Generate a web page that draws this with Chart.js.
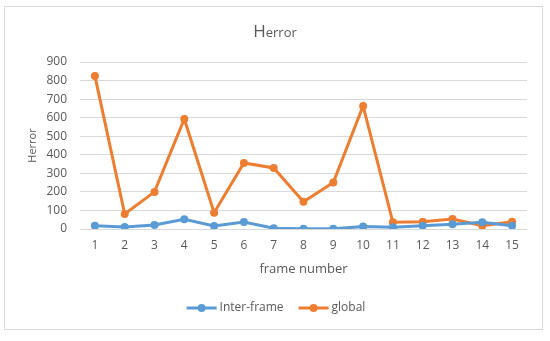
<!DOCTYPE html>
<html lang="en">
<head>
  <meta charset="UTF-8">
  <title>Herror</title>
  <script src="https://cdn.jsdelivr.net/npm/chart.js"></script>
  <style>
    body {
      margin: 0;
      background-color: white;
      font-family: 'Open Sans', sans-serif;
    }

    #chartBox {
      position: absolute;
      left: 4px;
      top: 6px;
      width: 537px;
      height: 322px;
      border: 1px solid #d9d9d9;
    }

    #hChart {
      position: absolute;
      left: 0;
      top: 0;
    }
  </style>
</head>
<body>

<div id="chartBox"></div>
<canvas id="hChart" width="550" height="341"></canvas>

<script>
  var frameLabels = ['1', '2', '3', '4', '5', '6', '7', '8', '9', '10', '11', '12', '13', '14', '15'];
  var interFrame = [18, 11, 22, 52, 16, 38, 4, 2, 1, 13, 9, 18, 25, 36, 18];
  var globalErr = [825, 81, 200, 593, 88, 356, 329, 147, 250, 663, 36, 39, 54, 18, 39];
  var yTicks = [0, 100, 200, 300, 400, 500, 600, 700, 800, 900];

  var textColor = '#595959';

  // title drawn with a big "H" and smaller "error"
  var titlePlugin = {
    id: 'splitTitle',
    afterDraw: function (chart) {
      var ctx = chart.ctx;
      ctx.save();
      ctx.fillStyle = textColor;
      ctx.textBaseline = 'alphabetic';
      ctx.font = '17px "Open Sans"';
      var wH = ctx.measureText('H').width;
      ctx.font = '13px "Open Sans"';
      var wE = ctx.measureText('error').width;
      var x = 275 - (wH + wE) / 2;
      ctx.font = '17px "Open Sans"';
      ctx.fillText('H', x, 37);
      ctx.font = '13px "Open Sans"';
      ctx.fillText('error', x + wH, 37);
      ctx.restore();
    }
  };

  // excel-like legend: line with a marker, then the label
  var legendPlugin = {
    id: 'lineLegend',
    afterDraw: function (chart) {
      var ctx = chart.ctx;
      var sets = chart.data.datasets;
      ctx.save();
      ctx.font = '12px "Open Sans"';
      var lineLen = 30, gap = 3, itemGap = 15;
      var total = 0;
      sets.forEach(function (ds, i) {
        total += lineLen + gap + ctx.measureText(ds.label).width;
        if (i < sets.length - 1) total += itemGap;
      });
      var x = 276 - total / 2;
      var y = 308;
      sets.forEach(function (ds) {
        ctx.strokeStyle = ds.borderColor;
        ctx.lineWidth = 3;
        ctx.beginPath();
        ctx.moveTo(x, y);
        ctx.lineTo(x + lineLen, y);
        ctx.stroke();
        ctx.fillStyle = ds.borderColor;
        ctx.beginPath();
        ctx.arc(x + lineLen / 2, y, 4, 0, Math.PI * 2);
        ctx.fill();
        ctx.fillStyle = textColor;
        ctx.textBaseline = 'middle';
        ctx.fillText(ds.label, x + lineLen + gap, y);
        x += lineLen + gap + ctx.measureText(ds.label).width + itemGap;
      });
      ctx.restore();
    }
  };

  var ctx = document.getElementById('hChart').getContext('2d');

  var hChart = new Chart(ctx, {
    type: 'line',
    data: {
      labels: frameLabels,
      datasets: [{
        label: 'Inter-frame',
        data: interFrame,
        borderColor: '#5B9BD5',
        backgroundColor: '#5B9BD5',
        borderWidth: 3,
        pointRadius: 4,
        pointBorderWidth: 0,
        tension: 0
      }, {
        label: 'global',
        data: globalErr,
        borderColor: '#ED7D31',
        backgroundColor: '#ED7D31',
        borderWidth: 3,
        pointRadius: 4,
        pointBorderWidth: 0,
        tension: 0
      }]
    },
    options: {
      responsive: false,
      animation: false,
      layout: {
        padding: { left: 0, top: 62, right: 23, bottom: 0 }
      },
      scales: {
        x: {
          offset: true,
          grid: { display: false, drawTicks: false },
          border: { display: false },
          ticks: {
            color: textColor,
            font: { family: 'Open Sans', size: 12 },
            padding: 9,
            maxRotation: 0
          },
          title: {
            display: true,
            text: 'frame number',
            color: textColor,
            font: { family: 'Open Sans', size: 13 },
            padding: { top: 4, bottom: 64 }
          },
          afterFit: function (scale) { scale.height = 112; }
        },
        y: {
          min: 0,
          max: 900,
          afterBuildTicks: function (scale) {
            scale.ticks = yTicks.map(function (v) { return { value: v }; });
          },
          grid: { color: '#d9d9d9', lineWidth: 1, drawTicks: false },
          border: { display: false },
          ticks: {
            color: textColor,
            font: { family: 'Open Sans', size: 12 },
            padding: 13
          },
          title: {
            display: true,
            text: 'Herror',
            color: textColor,
            font: { family: 'Open Sans', size: 11 },
            padding: { top: 26, bottom: 0 }
          },
          afterFit: function (scale) { scale.width = 80; }
        }
      },
      plugins: {
        legend: { display: false },
        title: { display: false },
        tooltip: { enabled: false }
      }
    },
    plugins: [titlePlugin, legendPlugin]
  });
</script>

</body>
</html>
